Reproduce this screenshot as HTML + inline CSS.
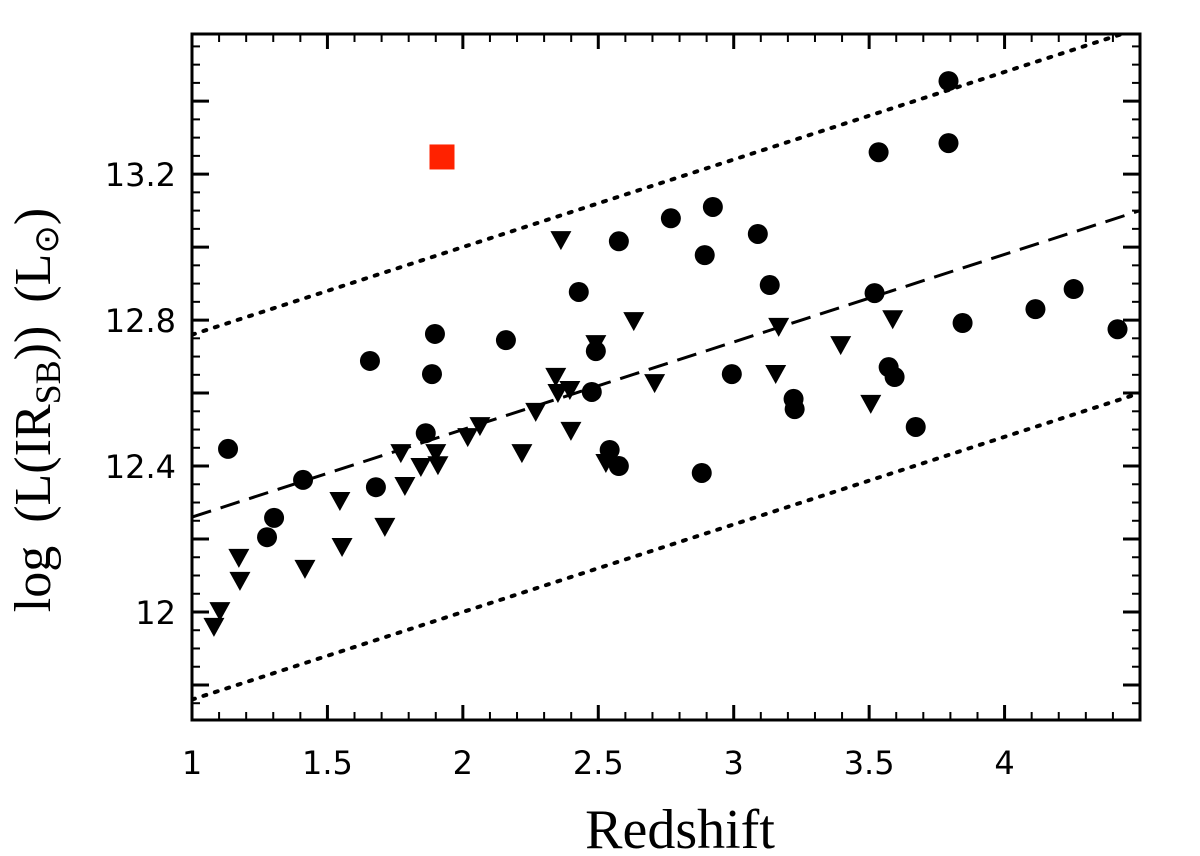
<!DOCTYPE html>
<html><head><meta charset="utf-8"><style>
html,body{margin:0;padding:0;background:#fff;}
svg{display:block;}
</style></head><body>
<svg id="chart" width="1200" height="856" viewBox="0 0 1200 856" xmlns="http://www.w3.org/2000/svg">
<g id="grid"></g>
<g id="lines"></g>
<g id="marks"></g>
<g id="axes"></g>
<text x="680" y="848" text-anchor="middle" font-family="Liberation Serif, serif" font-size="56">Redshift</text>
<text transform="translate(50,410) rotate(-90)" text-anchor="middle" font-family="Liberation Serif, serif" font-size="52" word-spacing="10">log (L(IR<tspan font-size="36" dy="10">SB</tspan><tspan dy="-10">)) (L</tspan><tspan font-size="34" dy="8">⊙</tspan><tspan dy="-8">)</tspan></text>
</svg>
<script>
const circleZ=[1.133,1.277,1.303,1.410,1.679,1.657,1.863,1.886,1.897,2.159,2.428,2.491,2.476,2.542,2.576,2.576,2.768,2.893,2.923,2.882,2.993,3.089,3.133,3.221,3.225,3.520,3.535,3.572,3.594,3.672,3.793,3.793,3.845,4.114,4.255,4.417];
const circleL=[12.447,12.205,12.258,12.362,12.342,12.688,12.490,12.652,12.762,12.745,12.877,12.715,12.603,12.444,12.400,13.016,13.079,12.978,13.110,12.381,12.652,13.036,12.896,12.584,12.556,12.874,13.260,12.671,12.644,12.507,13.455,13.285,12.792,12.830,12.885,12.775];
const triZ=[1.081,1.103,1.173,1.177,1.417,1.546,1.554,1.712,1.771,1.786,1.845,1.900,1.908,2.018,2.063,2.218,2.269,2.362,2.343,2.351,2.395,2.399,2.491,2.528,2.631,2.708,3.166,3.155,3.395,3.506,3.587];
const triL=[11.962,12.005,12.151,12.088,12.121,12.307,12.181,12.236,12.438,12.348,12.400,12.438,12.405,12.482,12.512,12.438,12.551,13.022,12.647,12.603,12.611,12.499,12.737,12.411,12.800,12.630,12.784,12.655,12.734,12.573,12.805];
const squareZ=[1.923];
const squareL=[13.247];
const fitIntercept=12.26, fitSlope=0.24, fitOffset=0.5;
const xTickLabels=["1","1.5","2","2.5","3","3.5","4"];
const xTickValues=[1,1.5,2,2.5,3,3.5,4];
const yTickLabels=["12","12.4","12.8","13.2"];
const yTickValues=[12,12.4,12.8,13.2];

const X0=192,X1=1140,Y0=34,Y1=720;
const xmin=1,xmax=4.5,ymin=11.704,ymax=13.584;
const sx=v=>X0+(v-xmin)/(xmax-xmin)*(X1-X0);
const sy=v=>Y1-(v-ymin)/(ymax-ymin)*(Y1-Y0);
const NS="http://www.w3.org/2000/svg";
function mk(tag,attrs,parent){const e=document.createElementNS(NS,tag);for(const k in attrs)e.setAttribute(k,attrs[k]);parent.appendChild(e);return e;}
const lines=document.getElementById('lines'),marks=document.getElementById('marks'),axes=document.getElementById('axes');
const defs=mk('defs',{},document.getElementById('chart'));
const cp=mk('clipPath',{id:'pc'},defs);mk('rect',{x:X0,y:Y0,width:X1-X0,height:Y1-Y0},cp);
lines.setAttribute('clip-path','url(#pc)');
const fit=z=>fitIntercept+fitSlope*(z-1);
[[0,'20 10','fit-line'],[fitOffset,'3 9','upper-bound-line'],[-fitOffset,'3 9','lower-bound-line']].forEach(([o,d,n])=>{
  const l=mk('line',{x1:sx(xmin),y1:sy(fit(xmin)+o),x2:sx(xmax),y2:sy(fit(xmax)+o),stroke:'#000','stroke-width':o===0?3:4,'stroke-dasharray':d,'stroke-linecap':o===0?'butt':'round'},lines);
  
  
});
circleZ.forEach((z,i)=>{
  const c=mk('circle',{cx:sx(z),cy:sy(circleL[i]),r:10,fill:'#000'},marks);
  
  
});
triZ.forEach((z,i)=>{
  const x=sx(z),y=sy(triL[i]);
  const p=mk('polygon',{points:`${x-10.5},${y-8} ${x+10.5},${y-8} ${x},${y+11}`,fill:'#000'},marks);
  
  
});
squareZ.forEach((z,i)=>{
  const r=mk('rect',{x:sx(z)-12.5,y:sy(squareL[i])-12.5,width:25,height:25,fill:'#ff2200'},marks);
  
  
});
const fr=mk('rect',{x:X0,y:Y0,width:X1-X0,height:Y1-Y0,fill:'none',stroke:'#000','stroke-width':3},axes);


for(let k=0;k<=35;k++){const v=1+k*0.1;const x=sx(v);const major=k%5===0;const len=major?15:8;
  mk('line',{x1:x,y1:Y1,x2:x,y2:Y1-len,stroke:'#000','stroke-width':major?3:2},axes);
  mk('line',{x1:x,y1:Y0,x2:x,y2:Y0+len,stroke:'#000','stroke-width':major?3:2},axes);}
xTickValues.forEach((v,i)=>{const t=mk('text',{x:sx(v),y:774,'text-anchor':'middle','font-family':'DejaVu Sans, sans-serif','font-size':32},axes);t.textContent=xTickLabels[i];
  
  });
for(let k=0;;k++){const v=11.75+k*0.05;if(v>ymax)break;const y=sy(v);const major=Math.abs(Math.round(v*10)/10-v)<1e-6&&Math.round(v*10)%2===0;const len=major?17:8;
  mk('line',{x1:X0,y1:y,x2:X0+len,y2:y,stroke:'#000','stroke-width':major?3:2},axes);
  mk('line',{x1:X1,y1:y,x2:X1-len,y2:y,stroke:'#000','stroke-width':major?3:2},axes);}
yTickValues.forEach((v,i)=>{const t=mk('text',{x:176,y:sy(v)+12,'text-anchor':'end','font-family':'DejaVu Sans, sans-serif','font-size':32},axes);t.textContent=yTickLabels[i];
  
  });
</script>
</body></html>
